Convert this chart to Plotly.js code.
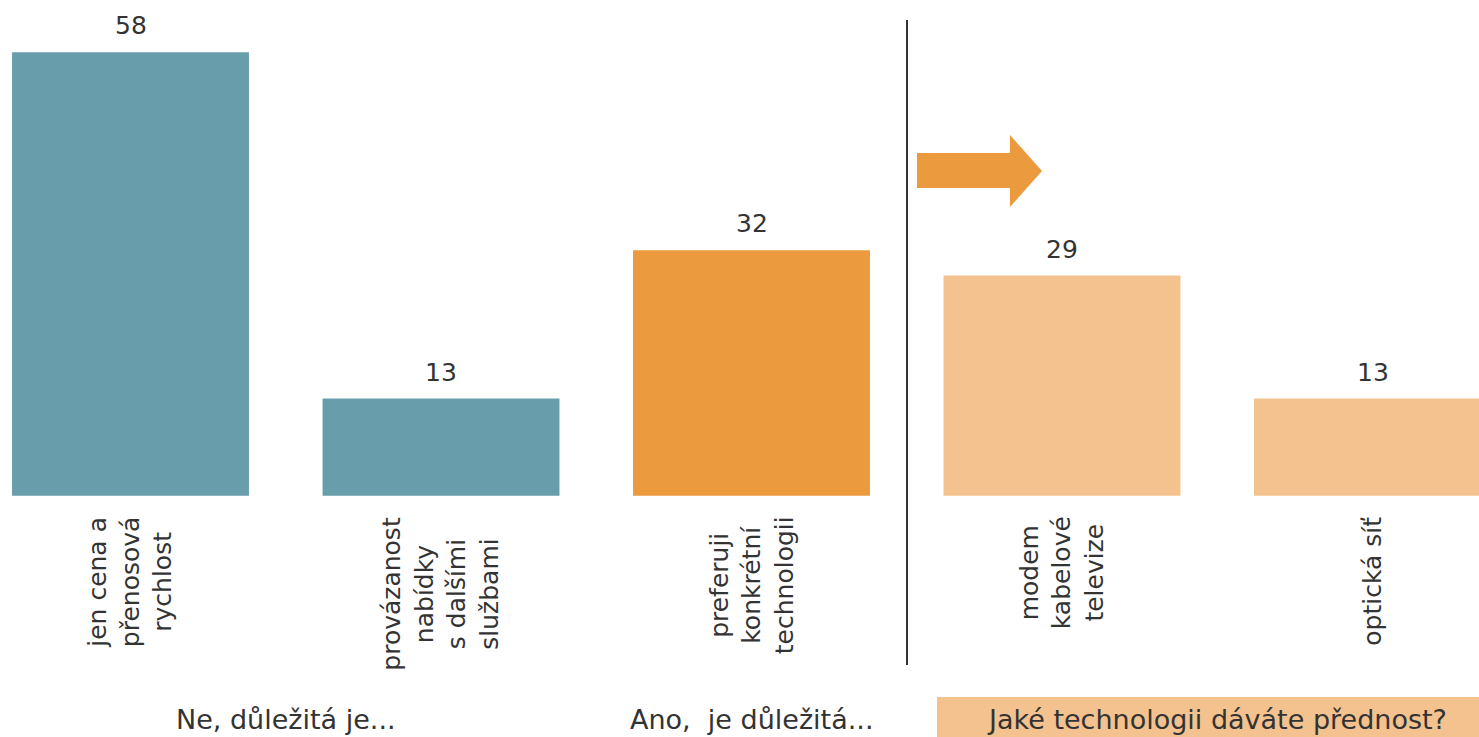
<!DOCTYPE html>
<html>
<head>
<meta charset="utf-8">
<script src="https://cdn.plot.ly/plotly-3.0.1.min.js"></script>
<style>
  html, body { margin: 0; padding: 0; background: #ffffff; }
  #chart { width: 1479px; height: 737px; }
</style>
</head>
<body>
<div id="chart"></div>
<script>
// ---- data ----
const categories = [
  'jen cena a<br>přenosová<br>rychlost',
  'provázanost<br>nabídky<br>s dalšími<br>službami',
  'preferuji<br>konkrétní<br>technologii',
  'modem<br>kabelové<br>televize',
  'optická síť'
];
const values = [58, 12.7, 32.1, 28.8, 12.7];
const valueLabels = ['58', '13', '32', '29', '13'];
const barColors = ['#689EAB', '#689EAB', '#EB9A3E', '#F3C28E', '#F3C28E'];
const groupLabels = ['Ne, důležitá je...', 'Ano,  je důležitá...', 'Jaké technologii dáváte přednost?'];
const groupCenters = [0.5, 2, 3.5];

// ---- layout helpers ----
const W = 1479, H = 737;
const px = x => x / W;          // pixel -> paper x
const py = y => 1 - y / H;      // pixel -> paper y

const numFont = "'DejaVu Sans', Verdana, sans-serif";
const catFont = "'DejaVu Sans', Verdana, sans-serif";

const annotations = [];
// value labels
values.forEach((v, i) => {
  annotations.push({
    x: i, y: v, xref: 'x', yref: 'y',
    text: valueLabels[i], showarrow: false,
    yanchor: 'middle', yshift: 26.5,
    font: { family: numFont, size: 25, color: '#333333' }
  });
});
// rotated category labels
categories.forEach((c, i) => {
  annotations.push({
    x: i, y: 0, xref: 'x', yref: 'y',
    text: c, showarrow: false, textangle: -90,
    xanchor: 'center', yanchor: 'top', yshift: -19,
    align: 'center',
    font: { family: catFont, size: 25, color: '#333333' }
  });
});
// group labels
groupLabels.forEach((g, i) => {
  annotations.push({
    x: groupCenters[i], y: py(719), xref: 'x', yref: 'paper',
    text: g, showarrow: false, yanchor: 'middle',
    font: { family: numFont, size: 27, color: '#333333' }
  });
});

const arrowPts = [[917,153],[1010,153],[1010,135],[1042,171],[1010,207],[1010,188],[917,188]];
const arrowPath = 'M ' + arrowPts.map(p => px(p[0]).toFixed(5) + ',' + py(p[1]).toFixed(5)).join(' L ') + ' Z';

const shapes = [
  { type: 'rect', xref: 'paper', yref: 'paper', x0: px(937), x1: 1.01, y0: -0.01, y1: py(697),
    fillcolor: '#F3C28E', line: { width: 0 }, layer: 'below' },
  { type: 'line', xref: 'paper', yref: 'paper', x0: px(907), x1: px(907), y0: py(665), y1: py(20),
    line: { color: '#333333', width: 2 } },
  { type: 'path', xref: 'paper', yref: 'paper', path: arrowPath,
    fillcolor: '#EB9A3E', line: { width: 0 } }
];

const trace = {
  type: 'bar',
  x: [0, 1, 2, 3, 4],
  y: values,
  marker: { color: barColors, line: { width: 0 } },
  hoverinfo: 'skip'
};

const layout = {
  width: W, height: H,
  margin: { l: 0, r: 0, t: 0, b: 0 },
  paper_bgcolor: '#ffffff', plot_bgcolor: '#ffffff',
  showlegend: false,
  bargap: 0.237,
  xaxis: { type: 'linear', range: [-0.4203, 4.343], showgrid: false, zeroline: false,
           showticklabels: false, ticks: '', fixedrange: true },
  yaxis: { range: [-31.56, 64.84], showgrid: false, zeroline: false,
           showticklabels: false, ticks: '', fixedrange: true },
  annotations: annotations,
  shapes: shapes
};

Plotly.newPlot('chart', [trace], layout, { displayModeBar: false, staticPlot: true });
</script>
</body>
</html>
